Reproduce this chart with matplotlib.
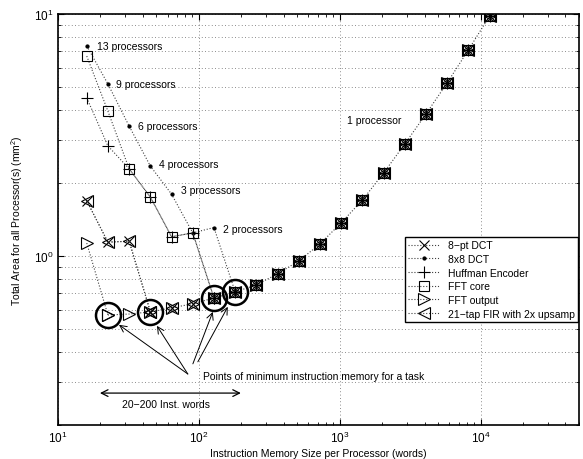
import numpy as np
import matplotlib
matplotlib.use("Agg")
import matplotlib.pyplot as plt
from matplotlib.ticker import LogLocator, NullFormatter

plt.rcParams['font.family'] = ['Liberation Sans', 'DejaVu Sans']
plt.rcParams['mathtext.fontset'] = 'custom'
plt.rcParams['mathtext.rm'] = 'Liberation Sans'

# instruction memory sizes (words)
mem = [16, 22.6, 32, 45.3, 64, 90.5, 128, 181, 256, 362, 512, 724, 1024,
       1448, 2048, 2896, 4096, 5793, 8192, 11585]

# 1 processor curve, from 22.6 words upward
one_proc = [0.57, 0.575, 0.587, 0.61, 0.634, 0.67, 0.71, 0.759, 0.843, 0.953,
            1.12, 1.37, 1.70, 2.20, 2.90, 3.86, 5.19, 7.1, 9.8]

# multi-processor points (first few sizes) for each task
dct8_multi = [1.69, 1.14, 1.15]
dct88_multi = [7.38, 5.14, 3.44, 2.35, 1.80, 1.245, 1.31]
huff_multi = [4.50, 2.85, 2.29, 1.75, 1.20, 1.245]
fftcore_multi = [6.70, 3.97, 2.29, 1.75, 1.20, 1.245]
fftout_multi = [1.13]
fir_multi = [1.69, 1.14, 1.15]

names = ['8\u2212pt DCT', '8x8 DCT', 'Huffman Encoder', 'FFT core', 'FFT output',
         '21\u2212tap FIR with 2x upsamp']
markers = ['x', '.', '+', 's', '>', '<']
msizes = [7.5, 4.5, 9, 7, 9, 9]
multis = [dct8_multi, dct88_multi, huff_multi, fftcore_multi, fftout_multi, fir_multi]

proc_labels = ['13 processors', '9 processors', '6 processors', '4 processors',
               '3 processors', '2 processors', '1 processor']
proc_lab_x = [18.9, 25.8, 36.9, 52.0, 74.5, 148, 1121]
proc_lab_y = [7.37, 5.14, 3.44, 2.40, 1.87, 1.29, 3.65]

min_x = [22.6, 45.3, 128, 181]
min_y = [0.57, 0.587, 0.67, 0.71]

fig = plt.figure(figsize=(5.83, 4.60), dpi=100)
ax = fig.add_axes([58/583, 1-426/460, 521/583, 411/460])

lc = '0.25'
# shared 1-processor line, drawn once
ax.plot(mem[1:], one_proc, linestyle=':', color=lc, lw=0.8)

for name, mk, ms, mult in zip(names, markers, msizes, multis):
    n = len(mult)
    ys = mult + one_proc[n - 1:]
    fill = 'none' if mk in ('s', '>', '<') else 'k'
    # multi-processor branch down to the 1 processor curve
    ax.plot(mem[:n + 1], ys[:n + 1], linestyle=':', color=lc, lw=0.8, marker=mk,
            markersize=ms, mfc=fill, mec='k', mew=0.8, label=name)
    ax.plot(mem[n:], ys[n:], linestyle='none', marker=mk, markersize=ms,
            mfc=fill, mec='k', mew=0.8)

ax.plot(min_x, min_y, linestyle='none', marker='o', markersize=18, mfc='none',
        mec='k', mew=1.8)

for t, x, y in zip(proc_labels, proc_lab_x, proc_lab_y):
    ax.text(x, y, t, fontsize=7.5, va='center', ha='left')

ax.text(106.8, 0.319, 'Points of minimum instruction memory for a task',
        fontsize=7.5, va='center', ha='left')
arrows = [((83.5, 0.325), (27.1, 0.519)), ((83.5, 0.325), (50.4, 0.514)),
          ((90.7, 0.358), (125.6, 0.587)), ((98.4, 0.365), (160.5, 0.616))]
for tail, head in arrows:
    ax.annotate('', xy=head, xytext=tail,
                arrowprops=dict(arrowstyle='->', lw=0.7, color='k',
                                shrinkA=0, shrinkB=0, mutation_scale=12))

ax.annotate('', xy=(19.85, 0.271), xytext=(198.7, 0.271),
            arrowprops=dict(arrowstyle='<->', lw=0.9, color='k',
                            shrinkA=0, shrinkB=0, mutation_scale=12))
ax.text(58, 0.245, '20\u2212200 Inst. words', fontsize=7.5, ha='center', va='center')

ax.set_xscale('log')
ax.set_yscale('log')
ax.set_xlim(10, 5e4)
ax.set_ylim(0.2, 10)
ax.yaxis.set_minor_locator(LogLocator(base=10, subs=np.arange(2, 10)))
ax.yaxis.set_minor_formatter(NullFormatter())
ax.xaxis.set_minor_formatter(NullFormatter())
ax.grid(True, which='major', axis='x', linestyle=(0, (1, 3)), color='k', lw=0.6, alpha=0.6)
ax.grid(True, which='both', axis='y', linestyle=(0, (1, 3)), color='k', lw=0.6, alpha=0.6)
ax.tick_params(which='both', direction='in', top=True, right=True, labelsize=8.5)
ax.tick_params(which='major', length=4)
ax.tick_params(which='minor', length=2)
for s in ax.spines.values():
    s.set_linewidth(1.2)

ax.set_xlabel('Instruction Memory Size per Processor (words)', fontsize=7.5, labelpad=2)
ax.set_ylabel('Total Area for all Processor(s) (mm$^2$)', fontsize=7.5, labelpad=6)

leg = ax.legend(loc='upper right', bbox_to_anchor=(0.998, 0.457), borderaxespad=0,
                fontsize=7.5, fancybox=False, framealpha=1, edgecolor='k',
                handlelength=3, labelspacing=0.35, borderpad=0.3)
leg.get_frame().set_linewidth(1.0)

fig.savefig('out.png', dpi=100)
